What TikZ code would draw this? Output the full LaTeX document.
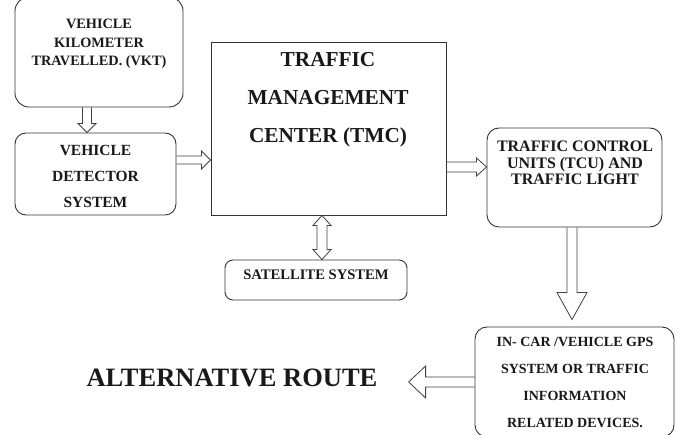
\documentclass[tikz,border=0pt]{standalone}
\usepackage{fontspec}
\setmainfont{Liberation Serif}
\usetikzlibrary{calc}
\tikzset{
  box/.style={draw=black!80, line width=0.9pt, rounded corners=11pt},
  sqbox/.style={draw=black!80, line width=0.9pt},
  arr/.style={draw=black!75, line width=0.8pt, line join=miter},
  lbl/.style={align=center, inner sep=0pt, text=black!90},
}
% down arrow: start, end, shaft half width, head half width, head length
\newcommand{\hollowD}[5]{\draw[arr] let \p1=(#1), \p2=(#2) in
  (\x1-#3,\y1) -- (\x1-#3,\y2+#5) -- (\x1-#4,\y2+#5) -- (\x1,\y2) --
  (\x1+#4,\y2+#5) -- (\x1+#3,\y2+#5) -- (\x1+#3,\y1);}
% right arrow
\newcommand{\hollowR}[5]{\draw[arr] let \p1=(#1), \p2=(#2) in
  (\x1,\y1+#3) -- (\x2-#5,\y1+#3) -- (\x2-#5,\y1+#4) -- (\x2,\y1) --
  (\x2-#5,\y1-#4) -- (\x2-#5,\y1-#3) -- (\x1,\y1-#3);}
% left arrow
\newcommand{\hollowL}[5]{\draw[arr] let \p1=(#1), \p2=(#2) in
  (\x1,\y1+#3) -- (\x2+#5,\y1+#3) -- (\x2+#5,\y1+#4) -- (\x2,\y1) --
  (\x2+#5,\y1-#4) -- (\x2+#5,\y1-#3) -- (\x1,\y1-#3);}
% double vertical arrow: top, bottom
\newcommand{\hollowUD}[5]{\draw[arr] let \p1=(#1), \p2=(#2) in
  (\x1-#3,\y1-#5) -- (\x1-#4,\y1-#5) -- (\x1,\y1) -- (\x1+#4,\y1-#5) --
  (\x1+#3,\y1-#5) -- (\x1+#3,\y2+#5) -- (\x1+#4,\y2+#5) -- (\x1,\y2) --
  (\x1-#4,\y2+#5) -- (\x1-#3,\y2+#5) -- cycle;}
\begin{document}
\begin{tikzpicture}[x=1pt,y=-1pt]
\useasboundingbox (0,0) rectangle (678,435);
\fill[white] (0,0) rectangle (678,435);
\clip (0,0) rectangle (678,435);

% boxes
\node[box, rounded corners=14pt, minimum width=168pt, minimum height=110pt] (vkt) at (99,52) {};
\node[lbl, font=\bfseries\fontsize{14.3}{18.5}\selectfont] (vktt) at (99,44) {VEHICLE\\KILOMETER\\TRAVELLED. (VKT)};

\node[box, minimum width=161pt, minimum height=82pt] (vd) at (95.5,174) {};
\node[lbl, font=\bfseries\fontsize{15.5}{26}\selectfont] (vdt) at (95.5,176) {VEHICLE\\DETECTOR\\SYSTEM};

\node[sqbox, minimum width=235pt, minimum height=173pt] (tmc) at (328.5,128.5) {};
\node[lbl, font=\bfseries\fontsize{21.3}{38}\selectfont] (tmct) at (328,100) {TRAFFIC\\MANAGEMENT\\CENTER (TMC)};

\node[box, rounded corners=8pt, minimum width=182pt, minimum height=40pt] (sat) at (316,280) {};
\node[lbl, font=\bfseries\fontsize{14.6}{16}\selectfont] (satt) at (316,275) {SATELLITE SYSTEM};

\node[box, rounded corners=12pt, minimum width=175pt, minimum height=99pt] (tcu) at (574.5,177.5) {};
\node[lbl, font=\bfseries\fontsize{16}{16.5}\selectfont] (tcut) at (575,163) {TRAFFIC CONTROL\\UNITS (TCU) AND\\TRAFFIC LIGHT};

\node[box, rounded corners=12pt, minimum width=199pt, minimum height=110pt] (incar) at (574.5,382) {};
\node[lbl, font=\bfseries\fontsize{14}{27}\selectfont] (incart) at (575,382.5) {IN- CAR /VEHICLE GPS\\SYSTEM OR TRAFFIC\\INFORMATION\\RELATED DEVICES.};

\node[lbl, font=\bfseries\fontsize{26.5}{30}\selectfont] (alt) at (232,378) {ALTERNATIVE ROUTE};

% helper coordinates
\coordinate (xa) at (87,0);
\coordinate (ya) at (0,160);
\coordinate (yb) at (0,167);
\coordinate (xc) at (322,0);
\coordinate (xd) at (572,0);

% connectors
\hollowD{xa |- vkt.south}{xa |- vd.north}{4.5pt}{9pt}{9pt}
\hollowR{vd.east |- ya}{tmc.west |- ya}{4pt}{9pt}{9pt}
\hollowR{tmc.east |- yb}{tcu.west |- yb}{5pt}{9pt}{10pt}
\hollowUD{xc |- tmc.south}{xc |- sat.north}{5pt}{9pt}{10pt}
\hollowD{xd |- tcu.south}{$(xd |- incar.north)+(0,-7)$}{5pt}{15pt}{27pt}
\hollowL{incar.west}{$(alt.east)+(31,4)$}{5pt}{16pt}{17pt}
\end{tikzpicture}
\end{document}
